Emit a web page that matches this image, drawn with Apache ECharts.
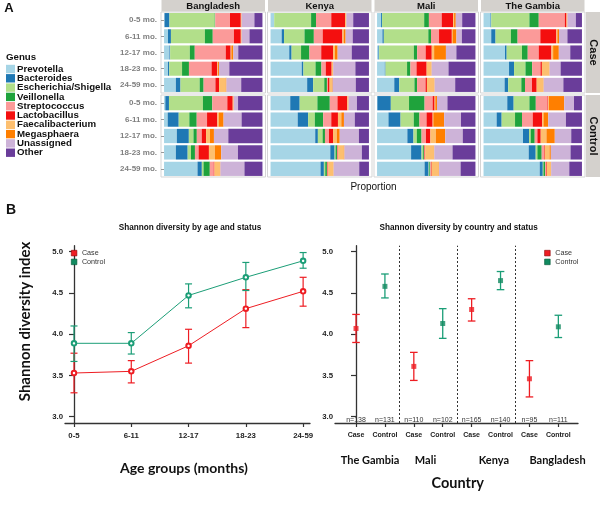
<!DOCTYPE html>
<html><head><meta charset="utf-8">
<script src="https://cdn.jsdelivr.net/npm/echarts@6/dist/echarts.min.js"></script>
<style>html,body{margin:0;padding:0;background:#fff}#c{width:600px;height:510px}</style>
</head><body><div id="c"></div>
<script>
// ---------- Panel A data ----------
const genera = ['Prevotella','Bacteroides','Escherichia/Shigella','Veillonella','Streptococcus','Lactobacillus','Faecalibacterium','Megasphaera','Unassigned','Other'];
const genusColors = ['#a6d5e6','#1f78b4','#b2df8a','#1fa33c','#fb9a99','#f40f0f','#fdbf6f','#ff7f00','#cdb3d8','#6a3d9a'];
const ageGroups = ['0-5 mo.','6-11 mo.','12-17 mo.','18-23 mo.','24-59 mo.'];
const countries = ['Bangladesh','Kenya','Mali','The Gambia'];
const statuses = ['Case','Control'];
// each row = genus proportions of one age group (order of `genera`)
const bangladeshCase = [
 [0.005,0.05,0.46,0.005,0.15,0.11,0.005,0.003,0.13,0.082],
 [0.04,0.03,0.345,0.08,0.215,0.07,0.005,0.003,0.08,0.132],
 [0.055,0.007,0.2,0.05,0.315,0.05,0.007,0.02,0.05,0.246],
 [0.04,0.013,0.13,0.07,0.23,0.058,0.007,0.01,0.105,0.337],
 [0.12,0.047,0.195,0.04,0.12,0.037,0.068,0.007,0.15,0.216]];
const bangladeshControl = [
 [0.013,0.037,0.345,0.095,0.153,0.055,0.007,0.003,0.044,0.248],
 [0.037,0.112,0.108,0.075,0.105,0.105,0.013,0.05,0.183,0.212],
 [0.13,0.122,0.047,0.034,0.05,0.044,0.04,0.04,0.146,0.347],
 [0.12,0.12,0.034,0.04,0.037,0.105,0.06,0.065,0.17,0.249],
 [0.34,0.044,0.017,0.064,0.04,0.007,0.058,0.003,0.244,0.183]];
const kenyaCase = [
 [0.037,0,0.375,0.05,0.155,0.14,0.01,0.003,0.07,0.16],
 [0.113,0.024,0.208,0.095,0.09,0.2,0.013,0.02,0.072,0.165],
 [0.19,0.024,0.096,0.085,0.12,0.12,0.02,0.027,0.143,0.175],
 [0.317,0.017,0.123,0.06,0.044,0.06,0.013,0.003,0.225,0.138],
 [0.372,0.061,0.113,0.027,0.01,0.017,0.024,0.007,0.235,0.134]];
const kenyaControl = [
 [0.2,0.096,0.18,0.126,0.078,0.1,0.01,0.003,0.085,0.122],
 [0.276,0.106,0.068,0.085,0.082,0.068,0.034,0.027,0.11,0.144],
 [0.454,0.027,0.048,0.024,0.041,0.041,0.038,0.03,0.195,0.102],
 [0.607,0.044,0.01,0.014,0.007,0.007,0.055,0.007,0.177,0.072],
 [0.508,0.034,0.014,0.017,0.007,0.007,0.051,0.003,0.26,0.099]];
const maliCase = [
 [0.041,0.01,0.428,0.048,0.13,0.116,0.01,0.017,0.065,0.135],
 [0.055,0.014,0.452,0.027,0.082,0.13,0.007,0.04,0.055,0.138],
 [0.014,0.007,0.353,0.034,0.086,0.062,0.024,0.12,0.106,0.194],
 [0.079,0.007,0.219,0.034,0.062,0.103,0.048,0.003,0.171,0.274],
 [0.175,0.051,0.154,0.027,0.086,0.014,0.075,0.003,0.209,0.206]];
const maliControl = [
 [0.003,0.137,0.185,0.158,0.082,0.02,0.007,0.017,0.106,0.285],
 [0.116,0.123,0.134,0.058,0.072,0.062,0.007,0.11,0.171,0.147],
 [0.308,0.062,0.034,0.048,0.045,0.045,0.055,0.096,0.178,0.129],
 [0.346,0.106,0.014,0.01,0.007,0.007,0.089,0.003,0.185,0.233],
 [0.483,0.041,0.007,0.01,0.007,0.007,0.072,0.003,0.219,0.151]];
const gambiaCase = [
 [0.071,0.007,0.388,0.095,0.265,0.017,0.007,0.003,0.085,0.062],
 [0.078,0.044,0.156,0.068,0.231,0.163,0.01,0.017,0.085,0.148],
 [0.218,0.017,0.156,0.058,0.112,0.129,0.017,0.058,0.116,0.119],
 [0.259,0.051,0.116,0.068,0.085,0.014,0.075,0.003,0.112,0.217],
 [0.214,0.037,0.133,0.037,0.071,0.048,0.068,0.003,0.2,0.189]];
const gambiaControl = [
 [0.241,0.065,0.16,0.065,0.119,0.007,0.007,0.156,0.099,0.081],
 [0.133,0.051,0.136,0.071,0.109,0.095,0.014,0.048,0.18,0.163],
 [0.401,0.061,0.017,0.041,0.027,0.034,0.058,0.085,0.167,0.109],
 [0.459,0.071,0.017,0.044,0.024,0.007,0.048,0.014,0.2,0.116],
 [0.571,0.031,0.007,0.017,0.01,0.007,0.041,0.003,0.184,0.129]];

// ---------- Panel B data ----------
const ageLabels = ['0-5','6-11','12-17','18-23','24-59'];
const ageCaseMean = [3.53,3.55,3.86,4.31,4.52];
const ageCaseLow  = [3.29,3.41,3.65,4.08,4.34];
const ageCaseHigh = [3.77,3.68,4.06,4.54,4.69];
const ageCtrlMean = [3.89,3.89,4.47,4.69,4.89];
const ageCtrlLow  = [3.67,3.76,4.32,4.53,4.80];
const ageCtrlHigh = [4.10,4.02,4.61,4.87,4.99];
const countryOrder = ['The Gambia','Mali','Kenya','Bangladesh'];
const statusTicks = ['Case','Control','Case','Control','Case','Control','Case','Control'];
const sampleSizes = ['n=138','n=131','n=110','n=102','n=165','n=140','n=95','n=111'];
const ctyCaseMean = [4.07,3.61,4.30,3.46];
const ctyCaseLow  = [3.90,3.44,4.16,3.24];
const ctyCaseHigh = [4.24,3.78,4.43,3.68];
const ctyCtrlMean = [4.58,4.13,4.65,4.09];
const ctyCtrlLow  = [4.44,3.95,4.54,3.96];
const ctyCtrlHigh = [4.73,4.31,4.76,4.23];

const facetData = {
  'Bangladesh': [bangladeshCase, bangladeshControl],
  'Kenya': [kenyaCase, kenyaControl],
  'Mali': [maliCase, maliControl],
  'The Gambia': [gambiaCase, gambiaControl]
};

const RED = '#ee1d23', GREEN = '#1b9e77';
const FONT = 'Liberation Sans';

const chart = echarts.init(document.getElementById('c'), null, {renderer:'canvas'});

const grids = [], xAxes = [], yAxes = [], series = [], graphics = [];
const gridLefts = [161, 267.5, 374, 480.5], gridW = 104.5;
const rowTops = [12, 95], rowH = [81, 82];

// Panel A facets
countries.forEach((cty, c) => {
  statuses.forEach((st, s) => {
    const g = grids.length;
    grids.push({left: gridLefts[c], top: rowTops[s], width: gridW, height: rowH[s]});
    xAxes.push({gridIndex: g, type: 'value', min: -0.031, max: 1.031, show: false});
    yAxes.push({gridIndex: g, type: 'category', inverse: true, data: ageGroups,
      axisLine: {show: false},
      axisTick: {show: c === 0, alignWithLabel: true, length: 3, lineStyle: {color: '#999'}},
      axisLabel: {show: c === 0, fontSize: 8, fontWeight: 'bold', color: '#7f7f7f', margin: 4, fontFamily: FONT},
      splitLine: {show: false}});
    const rows = facetData[cty][s];
    genera.forEach((gn, k) => {
      series.push({type: 'bar', name: gn, xAxisIndex: g, yAxisIndex: g, stack: 'f' + g,
        barWidth: '87%', itemStyle: {color: genusColors[k]}, silent: true,
        data: rows.map(r => r[k])});
    });
    // panel frame
    graphics.push({type: 'rect', shape: {x: gridLefts[c], y: rowTops[s], width: gridW, height: rowH[s]},
      style: {fill: 'none', stroke: '#d5d5d5', lineWidth: 1}, silent: true, z: 0});
  });
  // top strip
  graphics.push({type: 'rect', shape: {x: gridLefts[c] + 0.5, y: 0, width: gridW - 1, height: 11.5}, style: {fill: '#d4d1cd'}, silent: true});
  graphics.push({type: 'text', x: gridLefts[c] + gridW / 2, y: 6, style: {text: cty, fontSize: 9.5, fontWeight: 'bold', fill: '#111', fontFamily: FONT, align: 'center', verticalAlign: 'middle'}, silent: true});
});
// right strips
statuses.forEach((st, s) => {
  graphics.push({type: 'rect', shape: {x: 586, y: rowTops[s], width: 14, height: rowH[s]}, style: {fill: '#d4d1cd'}, silent: true});
  graphics.push({type: 'text', x: 593.5, y: rowTops[s] + rowH[s] / 2, rotation: -Math.PI / 2,
    style: {text: st, fontSize: 11, fontWeight: 'bold', fill: '#111', fontFamily: FONT, align: 'center', verticalAlign: 'middle'}, silent: true});
});

// ---------- Panel B ----------
const yMin = 2.924, yMax = 5.073;
const yTicks = [3, 3.5, 4, 4.5, 5];
function valueYAxis(g) {
  return {gridIndex: g, type: 'value', min: yMin, max: yMax,
    axisLine: {show: true, lineStyle: {color: '#333', width: 1.3}},
    axisTick: {show: true, customValues: yTicks, length: 5, lineStyle: {color: '#333', width: 1.2}},
    axisLabel: {customValues: yTicks, formatter: v => v.toFixed(1), fontSize: 7.8, fontWeight: 'bold', color: '#222', margin: 2, fontFamily: FONT},
    splitLine: {show: false}};
}
// left grid
const gL = grids.length;
grids.push({left: 65, top: 245.7, width: 245, height: 177.3});
xAxes.push({gridIndex: gL, type: 'value', min: -0.157, max: 4.12,
  axisLine: {show: true, lineStyle: {color: '#333', width: 1.3}},
  axisTick: {show: true, customValues: [0,1,2,3,4], length: 4, lineStyle: {color: '#333', width: 1.2}},
  axisLabel: {customValues: [0,1,2,3,4], formatter: v => ageLabels[Math.round(v)], fontSize: 7.8, fontWeight: 'bold', color: '#222', margin: 9, fontFamily: FONT},
  splitLine: {show: false}});
yAxes.push(valueYAxis(gL));
// right grid
const gR = grids.length;
grids.push({left: 335, top: 245.7, width: 243, height: 177.3});
xAxes.push({gridIndex: gR, type: 'value', min: -0.727, max: 7.68,
  axisLine: {show: true, lineStyle: {color: '#333', width: 1.3}},
  axisTick: {show: true, customValues: [0,1,2,3,4,5,6,7], length: 4, lineStyle: {color: '#333', width: 1.2}},
  axisLabel: {customValues: [0,1,2,3,4,5,6,7], formatter: v => statusTicks[Math.round(v)], fontSize: 7, fontWeight: 'bold', color: '#222', margin: 9, fontFamily: FONT},
  splitLine: {show: false}});
yAxes.push(valueYAxis(gR));

function errBars(cap, color, width) {
  return function (params, api) {
    const x = api.value(0), lo = api.value(1), hi = api.value(2);
    const a = api.coord([x, lo]), b = api.coord([x, hi]);
    const st = {stroke: color, lineWidth: width};
    return {type: 'group', children: [
      {type: 'line', shape: {x1: a[0], y1: a[1], x2: b[0], y2: b[1]}, style: st},
      {type: 'line', shape: {x1: b[0] - cap, y1: b[1], x2: b[0] + cap, y2: b[1]}, style: st},
      {type: 'line', shape: {x1: a[0] - cap, y1: a[1], x2: a[0] + cap, y2: a[1]}, style: st}
    ]};
  };
}

// left chart series
series.push({type: 'custom', name: 'caseErrAge', xAxisIndex: gL, yAxisIndex: gL, silent: true,
  renderItem: errBars(3.5, RED, 1.2), data: ageCaseMean.map((v, i) => [i, ageCaseLow[i], ageCaseHigh[i]])});
series.push({type: 'custom', name: 'ctrlErrAge', xAxisIndex: gL, yAxisIndex: gL, silent: true,
  renderItem: errBars(3.5, GREEN, 1.2), data: ageCtrlMean.map((v, i) => [i, ageCtrlLow[i], ageCtrlHigh[i]])});
series.push({type: 'line', name: 'Case', xAxisIndex: gL, yAxisIndex: gL, symbol: 'emptyCircle', symbolSize: 4.5,
  lineStyle: {color: RED, width: 1}, itemStyle: {color: RED, borderWidth: 1}, silent: true,
  data: ageCaseMean.map((v, i) => [i, v])});
series.push({type: 'line', name: 'Control', xAxisIndex: gL, yAxisIndex: gL, symbol: 'emptyCircle', symbolSize: 4.5,
  lineStyle: {color: GREEN, width: 1}, itemStyle: {color: GREEN, borderWidth: 1}, silent: true,
  data: ageCtrlMean.map((v, i) => [i, v])});

// right chart series
series.push({type: 'custom', name: 'caseErrCty', xAxisIndex: gR, yAxisIndex: gR, silent: true,
  renderItem: errBars(3.8, RED, 1.3), data: ctyCaseMean.map((v, i) => [2 * i, ctyCaseLow[i], ctyCaseHigh[i]])});
series.push({type: 'custom', name: 'ctrlErrCty', xAxisIndex: gR, yAxisIndex: gR, silent: true,
  renderItem: errBars(3.8, GREEN, 1.3), data: ctyCtrlMean.map((v, i) => [2 * i + 1, ctyCtrlLow[i], ctyCtrlHigh[i]])});
series.push({type: 'scatter', name: 'Case', xAxisIndex: gR, yAxisIndex: gR, symbol: 'rect', symbolSize: 5,
  itemStyle: {color: RED}, silent: true, data: ctyCaseMean.map((v, i) => [2 * i, v]),
  markLine: {silent: true, symbol: 'none', label: {show: false},
    lineStyle: {type: [2, 2], color: '#333', width: 1},
    data: [{xAxis: 1.5}, {xAxis: 3.5}, {xAxis: 5.5}]}});
series.push({type: 'scatter', name: 'Control', xAxisIndex: gR, yAxisIndex: gR, symbol: 'rect', symbolSize: 5,
  itemStyle: {color: '#118a60'}, silent: true, data: ctyCtrlMean.map((v, i) => [2 * i + 1, v])});
series.push({type: 'custom', name: 'nLabels', xAxisIndex: gR, yAxisIndex: gR, silent: true,
  data: sampleSizes.map((t, i) => [i, 2.965]),
  renderItem: function (params, api) {
    const p = api.coord([api.value(0), api.value(1)]);
    return {type: 'text', x: p[0], y: p[1], style: {text: sampleSizes[params.dataIndex], fontSize: 7, fill: '#333', fontFamily: FONT, align: 'center', verticalAlign: 'middle'}};
  }});

// text decorations
const txt = (x, y, text, size, weight, fam, extra) => Object.assign({type: 'text', x, y, silent: true,
  style: {text, fontSize: size, fontWeight: weight, fill: '#111', fontFamily: fam, align: 'center', verticalAlign: 'middle'}}, extra || {});
graphics.push(txt(9, 8.5, 'A', 13, 'bold', FONT));
graphics.push(txt(11, 210.5, 'B', 14, 'bold', FONT));
graphics.push(txt(373.5, 187.7, 'Proportion', 10, 'normal', FONT));
graphics.push({type: 'text', x: 6, y: 57.7, silent: true, style: {text: 'Genus', fontSize: 9.7, fontWeight: 'bold', fill: '#111', fontFamily: FONT, align: 'left', verticalAlign: 'middle'}});
graphics.push(txt(190, 228, 'Shannon diversity by age and status', 8.2, 'bold', FONT));
graphics.push(txt(458.7, 228, 'Shannon diversity by country and status', 8.2, 'bold', FONT));
graphics.push(txt(184, 468, 'Age groups (months)', 14, 'bold', 'Lato'));
graphics.push(txt(25, 321.5, 'Shannon diversity index', 15, 'bold', 'Lato', {rotation: Math.PI / 2}));
graphics.push(txt(457.7, 483.3, 'Country', 14.5, 'bold', 'Lato'));
const ctyLabelX = [370, 425.5, 493.8, 557.5];
countryOrder.forEach((n, i) => graphics.push(txt(ctyLabelX[i], 460.7, n, 11, 'bold', 'Lato')));

const option = {
  animation: false,
  backgroundColor: '#fff',
  grid: grids, xAxis: xAxes, yAxis: yAxes, series: series,
  legend: [
    {data: genera, orient: 'vertical', left: 6, top: 64, padding: 0, icon: 'rect', itemWidth: 9, itemHeight: 8.4, itemGap: -0.7,
      selectedMode: false,
      textStyle: {fontSize: 9.7, fontWeight: 'bold', color: '#111', fontFamily: FONT, lineHeight: 8.4, padding: [0, 0, 0, -3]}},
    {data: [{name: 'Case', itemStyle: {color: RED, borderColor: '#800', borderWidth: 0.6}},
            {name: 'Control', itemStyle: {color: '#118a60', borderColor: '#053', borderWidth: 0.6}}],
      orient: 'vertical', left: 71, top: 249.6, padding: 0, icon: 'rect', itemWidth: 5.6, itemHeight: 5.6, itemGap: 1.8, selectedMode: false,
      textStyle: {fontSize: 7.2, color: '#333', fontFamily: FONT}},
    {data: [{name: 'Case', itemStyle: {color: RED, borderColor: '#800', borderWidth: 0.6}},
            {name: 'Control', itemStyle: {color: '#118a60', borderColor: '#053', borderWidth: 0.6}}],
      orient: 'vertical', left: 544.3, top: 249.6, padding: 0, icon: 'rect', itemWidth: 5.6, itemHeight: 5.6, itemGap: 1.8, selectedMode: false,
      textStyle: {fontSize: 7.2, color: '#333', fontFamily: FONT}}
  ],
  graphic: graphics
};
chart.setOption(option);
</script></body></html>
